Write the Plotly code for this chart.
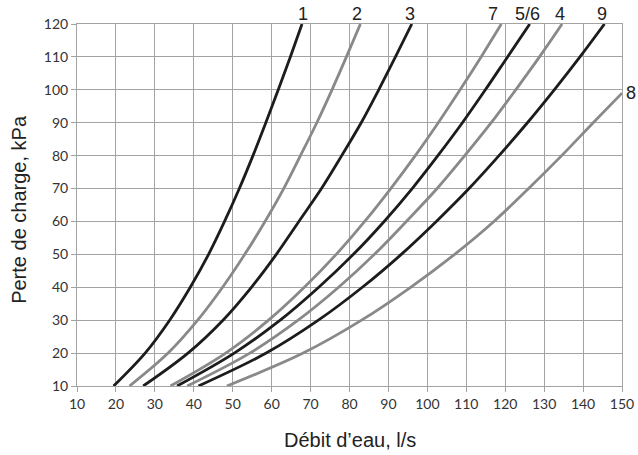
import plotly.graph_objects as go

# Pressure loss levels (kPa) at which flows were read
pressure = [10, 20, 30, 40, 50, 60, 70, 80, 90, 100, 110, 120]

# Flow (l/s) read at each pressure level, per curve
flow_1 = [19.4, 27.5, 33.8, 39.1, 43.8, 47.9, 51.7, 55.2, 58.5, 61.7, 64.8, 67.8]
flow_2 = [23.5, 33.4, 41.0, 47.4, 53.1, 58.3, 63.1, 67.4, 71.6, 75.5, 79.2, 82.8]
flow_3 = [27.0, 38.5, 47.5, 54.8, 61.2, 67.0, 72.8, 78.0, 83.0, 87.5, 91.8, 96.0]
flow_7 = [34.0, 48.2, 59.2, 68.4, 76.6, 83.9, 90.6, 96.9, 102.8, 108.4, 113.8, 119.0]
flow_56 = [35.7, 50.4, 62.2, 72.1, 81.0, 88.9, 96.1, 102.7, 109.0, 114.9, 120.6, 126.3]
flow_4 = [38.3, 54.4, 66.8, 77.2, 86.4, 94.6, 102.5, 109.6, 116.4, 122.7, 128.8, 134.6]
flow_9 = [41.2, 58.6, 72.0, 83.3, 93.3, 102.3, 110.7, 118.4, 125.7, 132.6, 139.2, 145.5]

pressure_8 = [10, 20, 30, 40, 50, 60, 70, 80, 90, 99]
flow_8 = [48.5, 68.1, 83.1, 95.7, 107.0, 117.1, 126.0, 134.5, 142.6, 150.0]

x_ticks = list(range(10, 151, 10))
y_ticks = list(range(10, 121, 10))

BLACK = "#1c1c1c"
GRAY = "#898989"

series = [
    (flow_1, pressure, BLACK, "1"),
    (flow_2, pressure, GRAY, "2"),
    (flow_3, pressure, BLACK, "3"),
    (flow_7, pressure, GRAY, "7"),
    (flow_56, pressure, BLACK, "5/6"),
    (flow_4, pressure, GRAY, "4"),
    (flow_9, pressure, BLACK, "9"),
    (flow_8, pressure_8, GRAY, "8"),
]

# horizontal nudges (px) of the curve labels relative to the curve ends
label_nudge = {"1": 1, "2": -3, "3": -2, "7": -8, "5/6": -2, "4": -2, "9": -2}

fig = go.Figure()
for xs, ys, col, name in series:
    fig.add_trace(go.Scatter(
        x=xs, y=ys, mode="lines", name=name,
        line=dict(color=col, width=2.8, shape="spline", smoothing=1.0),
        showlegend=False, hoverinfo="skip", cliponaxis=False,
    ))

label_font = dict(family="Liberation Sans, Arial, sans-serif", size=18, color="#222222")
for xs, ys, col, name in series:
    if name == "8":
        fig.add_annotation(x=xs[-1], y=ys[-1], text=name, showarrow=False,
                           xanchor="left", yanchor="middle", xshift=2, font=label_font)
    else:
        fig.add_annotation(x=xs[-1], y=ys[-1], text=name, showarrow=False,
                           xanchor="center", yanchor="bottom", yshift=-2,
                           xshift=label_nudge[name], font=label_font)

title_font = dict(family="Liberation Sans, Arial, sans-serif", size=20, color="#222222")
fig.add_annotation(xref="paper", yref="paper", x=0.5, y=0, yshift=-54,
                   text="Débit d’eau, l/s", showarrow=False,
                   xanchor="center", yanchor="middle", font=title_font)
fig.add_annotation(xref="paper", yref="paper", x=0, y=0.4866, xshift=-58,
                   text="Perte de charge, kPa", showarrow=False, textangle=-90,
                   xanchor="center", yanchor="middle", font=title_font)

grid = "#a3a3a3"
tick_font = dict(family="Lato, Open Sans, sans-serif", size=14, color="#333333")

fig.update_xaxes(
    range=[10, 150], tickvals=x_ticks, ticktext=[str(v) for v in x_ticks],
    showgrid=True, gridcolor=grid, gridwidth=1,
    showline=True, linecolor=grid, linewidth=1, mirror=True,
    ticks="outside", ticklen=5, tickcolor=grid, zeroline=False,
    tickfont=tick_font, automargin=False,
)
fig.update_yaxes(
    range=[10, 120], tickvals=y_ticks, ticktext=[str(v) for v in y_ticks],
    showgrid=True, gridcolor=grid, gridwidth=1,
    showline=True, linecolor=grid, linewidth=1, mirror=True,
    ticks="outside", ticklen=5, tickcolor=grid, zeroline=False,
    tickfont=tick_font, automargin=False,
)

fig.update_layout(
    width=638, height=455,
    margin=dict(l=76.5, r=15.7, t=24.3, b=69),
    paper_bgcolor="white", plot_bgcolor="white",
)

fig.write_html(
    "out.html",
    config={"displayModeBar": False},
    post_script="document.body.style.margin='0';document.body.style.padding='0';",
)
